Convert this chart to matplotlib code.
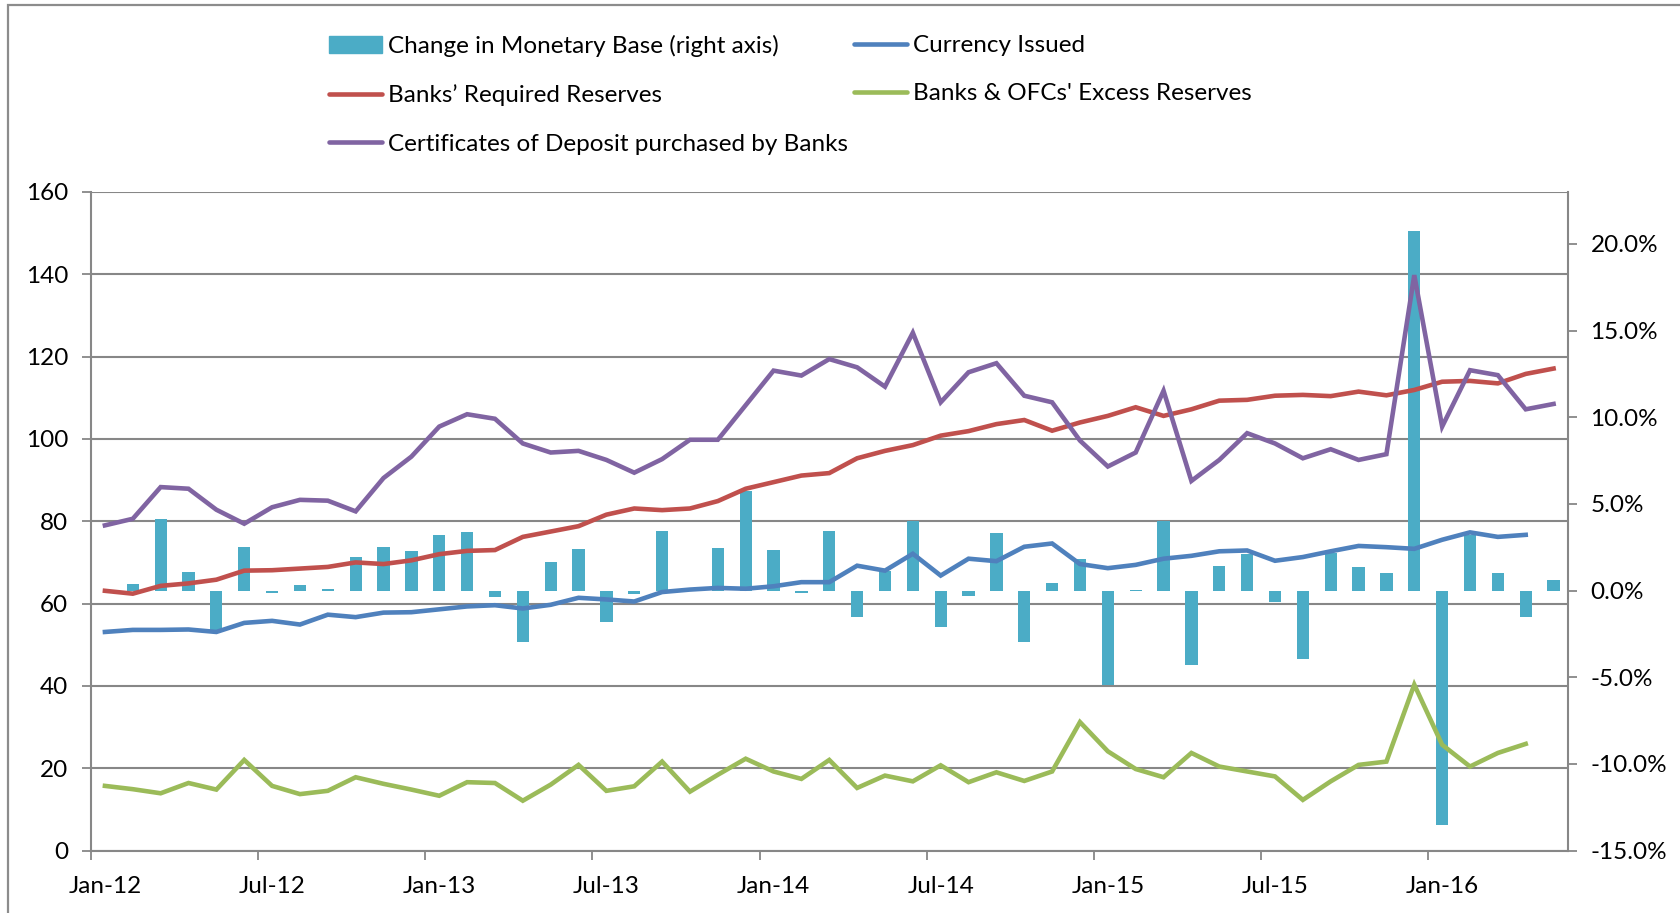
import numpy as np
import matplotlib.pyplot as plt
import matplotlib.patches as mpatches
from matplotlib.lines import Line2D

plt.rcParams['font.family'] = ['Lato', 'DejaVu Sans']

# monthly data, Jan-12 .. May-16
tick_labels = ['Jan-12', 'Jul-12', 'Jan-13', 'Jul-13', 'Jan-14', 'Jul-14', 'Jan-15', 'Jul-15', 'Jan-16']

change_base = [np.nan, 0.38, 4.15, 1.1, -2.25, 2.52, -0.13, 0.33, 0.1, 1.92, 2.52, 2.29,
               3.23, 3.38, -0.35, -2.98, 1.62, 2.40, -1.79, -0.19, 3.46, 0.0, 2.46, 5.73,
               2.33, -0.15, 3.46, -1.52, 1.15, 4.0, -2.08, -0.31, 3.35, -2.94, 0.46, 1.83,
               -5.44, 0.04, 4.0, -4.29, 1.42, 2.1, -0.67, -3.94, 2.15, 1.38, 1.0, 20.75,
               -13.5, 3.2, 1.0, -1.52, 0.6]

currency = [53.1, 53.6, 53.6, 53.7, 53.1, 55.3, 55.8, 54.9, 57.3, 56.7, 57.8, 57.9,
            58.6, 59.3, 59.6, 58.8, 59.7, 61.4, 61.0, 60.5, 62.8, 63.4, 63.8, 63.6,
            64.2, 65.2, 65.2, 69.2, 68.0, 72.1, 66.8, 70.9, 70.3, 73.8, 74.6, 69.6,
            68.6, 69.4, 70.9, 71.6, 72.7, 72.9, 70.4, 71.3, 72.7, 74.0, 73.7, 73.3,
            75.5, 77.3, 76.2, 76.7]

required = [63.1, 62.4, 64.3, 64.9, 65.8, 68.0, 68.1, 68.5, 68.9, 70.0, 69.6, 70.5,
            72.0, 72.8, 73.0, 76.2, 77.5, 78.8, 81.6, 83.1, 82.7, 83.1, 84.9, 87.9,
            89.5, 91.1, 91.7, 95.3, 97.1, 98.5, 100.8, 101.9, 103.6, 104.6, 102.0, 104.0,
            105.6, 107.7, 105.6, 107.2, 109.3, 109.5, 110.5, 110.7, 110.4, 111.5, 110.6, 111.9,
            113.9, 114.1, 113.5, 115.8, 117.1]

excess = [15.7, 14.9, 13.9, 16.4, 14.8, 22.0, 15.7, 13.7, 14.5, 17.8, 16.2, 14.8,
          13.3, 16.6, 16.4, 12.1, 16.0, 20.8, 14.5, 15.6, 21.6, 14.3, 18.4, 22.3,
          19.2, 17.4, 22.0, 15.2, 18.2, 16.8, 20.7, 16.6, 19.0, 16.9, 19.2, 31.2,
          24.1, 19.8, 17.8, 23.7, 20.4, 19.2, 18.0, 12.3, 16.8, 20.8, 21.6, 40.3,
          25.7, 20.4, 23.7, 25.9]

cds = [79.0, 80.6, 88.3, 87.9, 82.8, 79.4, 83.4, 85.2, 85.0, 82.4, 90.5, 95.7,
       103.0, 106.0, 104.9, 98.9, 96.7, 97.1, 94.9, 91.8, 95.1, 99.8, 99.8, 108.2,
       116.6, 115.4, 119.4, 117.4, 112.7, 125.8, 108.9, 116.2, 118.4, 110.5, 108.9, 99.6,
       93.3, 96.7, 111.7, 89.8, 94.9, 101.4, 98.9, 95.3, 97.5, 94.9, 96.3, 139.8,
       103.0, 116.7, 115.5, 107.2, 108.5]

n_months = len(change_base)
x = np.arange(n_months) + 0.5

grid_c = '#878787'
fs = 17.5

fig = plt.figure(figsize=(16.8, 9.13), dpi=100)
# chart border
fig.patches.append(mpatches.Rectangle((8 / 1680, -0.1), 1.2, 1 - 5.5 / 913 + 0.1,
                                      transform=fig.transFigure, fill=False,
                                      edgecolor='#8c8c8c', lw=1.6))

ax = fig.add_axes([91 / 1680, 1 - 850.5 / 913, (1567.5 - 91) / 1680, (850.5 - 192) / 913])
ax.set_xlim(0, n_months)
ax.set_ylim(0, 160)
ax.set_yticks(np.arange(0, 161, 20))
ax.grid(axis='y', color=grid_c, lw=1.5)
ax.set_axisbelow(True)
ax.tick_params(axis='y', direction='out', length=6.5, width=1.3, color=grid_c,
               labelsize=fs, pad=10)
ax.set_xticks(np.arange(0, n_months, 6))
ax.set_xticklabels([])
ax.set_xticks(np.arange(0, n_months, 6) + 0.5, minor=True)
ax.set_xticklabels(tick_labels, minor=True)
ax.tick_params(axis='x', which='major', direction='out', length=6.5, width=1.3, color=grid_c)
ax.tick_params(axis='x', which='minor', length=0, labelsize=fs, pad=18)
for s in ['left', 'bottom', 'right']:
    ax.spines[s].set_color(grid_c)
    ax.spines[s].set_linewidth(1.5)
ax.spines['top'].set_visible(False)

# bars on the right axis
axb = ax.twinx()
axb.set_ylim(-15, 23)
axb.set_yticks(np.arange(-15, 21, 5))
axb.set_yticklabels([f'{v:.1f}%' for v in np.arange(-15, 21, 5)])
axb.tick_params(axis='y', direction='out', length=6.5, width=1.3, color=grid_c,
                labelsize=fs, pad=10)
for s in axb.spines.values():
    s.set_visible(False)
axb.bar(x, change_base, width=0.44, color='#4BACC6', zorder=2)

# lines on top
axl = ax.twinx()
axl.set_ylim(0, 160)
axl.set_yticks([])
for s in axl.spines.values():
    s.set_visible(False)
lw = 3.3
axl.plot(x[:len(currency)], currency, color='#4F81BD', lw=lw, solid_joinstyle='miter')
axl.plot(x[:len(required)], required, color='#C0504D', lw=lw, solid_joinstyle='miter')
axl.plot(x[:len(excess)], excess, color='#9BBB59', lw=lw, solid_joinstyle='miter')
axl.plot(x[:len(cds)], cds, color='#8064A2', lw=lw, solid_joinstyle='miter')

# legend in two blocks
h_bar = mpatches.Patch(color='#4BACC6')
h_req = Line2D([], [], color='#C0504D', lw=lw, solid_capstyle='round')
h_cds = Line2D([], [], color='#8064A2', lw=lw, solid_capstyle='round')
h_cur = Line2D([], [], color='#4F81BD', lw=lw, solid_capstyle='round')
h_exc = Line2D([], [], color='#9BBB59', lw=lw, solid_capstyle='round')
leg_kw = dict(frameon=False, fontsize=fs, handlelength=2.2, handletextpad=0.22,
              labelspacing=1.13, borderpad=0, borderaxespad=0, loc='upper left')
leg1 = fig.legend([h_bar, h_req, h_cds],
                  ['Change in Monetary Base (right axis)', 'Banks\u2019 Required Reserves',
                   'Certificates of Deposit purchased by Banks'],
                  bbox_to_anchor=(329 / 1680, 1 - 35 / 913), **leg_kw)
leg2 = fig.legend([h_cur, h_exc],
                  ['Currency Issued', "Banks & OFCs' Excess Reserves"],
                  bbox_to_anchor=(854 / 1680, 1 - 35 / 913), **leg_kw)

fig.savefig('out.png', dpi=100)
